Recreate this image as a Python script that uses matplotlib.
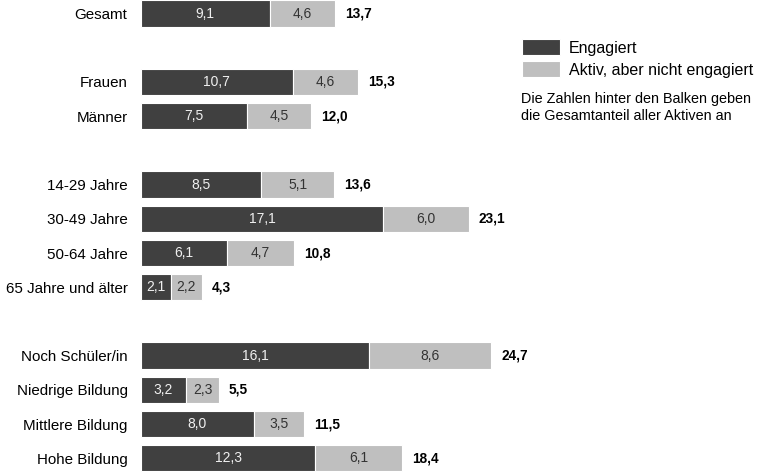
import matplotlib.pyplot as plt

plt.rcParams['font.family'] = ['Liberation Sans', 'DejaVu Sans']

# Data (percent)
categories = ['Gesamt', 'Frauen', 'Männer', '14-29 Jahre', '30-49 Jahre', '50-64 Jahre',
              '65 Jahre und älter', 'Noch Schüler/in', 'Niedrige Bildung',
              'Mittlere Bildung', 'Hohe Bildung']
rows = [0, 2, 3, 5, 6, 7, 8, 10, 11, 12, 13]
engagiert = [9.1, 10.7, 7.5, 8.5, 17.1, 6.1, 2.1, 16.1, 3.2, 8.0, 12.3]
aktiv = [4.6, 4.6, 4.5, 5.1, 6.0, 4.7, 2.2, 8.6, 2.3, 3.5, 6.1]
gesamt = [13.7, 15.3, 12.0, 13.6, 23.1, 10.8, 4.3, 24.7, 5.5, 11.5, 18.4]

dark = '#404040'
light = '#bfbfbf'

fig = plt.figure(figsize=(7.64, 4.72), dpi=100)
ax = fig.add_axes([140.7 / 764, 0, 1 - 140.7 / 764, 1])

b1 = ax.barh(rows, engagiert, height=0.77, color=dark, edgecolor='white', linewidth=0.8,
             label='Engagiert')
b2 = ax.barh(rows, aktiv, left=engagiert, height=0.77, color=light, edgecolor='white',
             linewidth=0.8, label='Aktiv, aber nicht engagiert')

def fmt(v):
    return f'{v:.1f}'.replace('.', ',')

ax.bar_label(b1, labels=[fmt(v) for v in engagiert], label_type='center', color='#f0f0f0', fontsize=10)
ax.bar_label(b2, labels=[fmt(v) for v in aktiv], label_type='center', color='#333333', fontsize=10)
for r, t in zip(rows, gesamt):
    ax.annotate(fmt(t), (t, r), xytext=(7.2, 0), textcoords='offset points',
                va='center', ha='left', fontsize=9.8, fontweight='bold')

ax.set_xlim(0, 43.9)
ax.set_ylim(13.4, -0.395)
ax.set_yticks(rows)
ax.set_yticklabels(categories, fontsize=10.9)
ax.tick_params(axis='y', length=0, pad=9.5)
ax.set_xticks([])
for s in ax.spines.values():
    s.set_visible(False)

ax.legend(loc='upper left', bbox_to_anchor=((522 - 140.7) / 623.3, 1 - 39.5 / 472),
          frameon=False, fontsize=11.5, handlelength=2.4, handleheight=1.125,
          labelspacing=0.35, handletextpad=0.52, borderaxespad=0, borderpad=0)
fig.text(521 / 764, 1 - 107.5 / 472, 'Die Zahlen hinter den Balken geben\ndie Gesamtanteil aller Aktiven an',
         fontsize=10.4, va='center', ha='left', linespacing=1.36)

fig.savefig('out.png', dpi=100)
